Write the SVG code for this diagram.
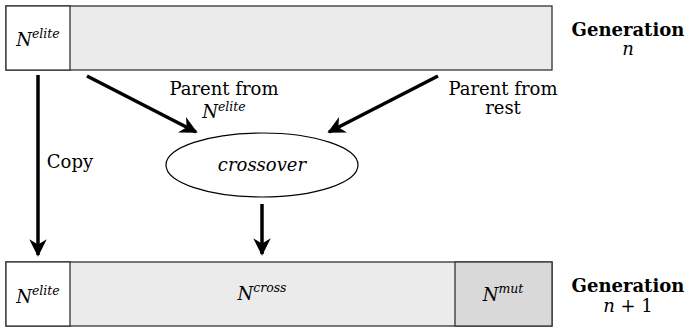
<svg xmlns="http://www.w3.org/2000/svg" width="688" height="328" viewBox="0 0 688 328">
<style>
.box{stroke:#333;stroke-width:1.3}
text{font-family:"DejaVu Serif","Liberation Serif",serif;font-size:18px;fill:#000;text-anchor:middle}
.i{font-style:italic}
.sup{font-size:12.5px;font-style:italic}
.b{font-weight:bold}
.c{stroke:#000;stroke-width:3.5;fill:none;marker-end:url(#ah)}
</style>
<defs>
<marker id="ah" viewBox="0 0 10 10" refX="9" refY="5" markerWidth="5" markerHeight="5" orient="auto" markerUnits="strokeWidth">
<path d="M0,0 L10,5 L0,10 L3,5 Z" fill="#000"/>
</marker>
</defs>
<g id="gen-n">
<rect class="box" x="6" y="6" width="546" height="64" fill="#ebebeb"/>
<rect class="box" x="6" y="6" width="64" height="64" fill="#fff"/>
<text x="38" y="46"><tspan class="i">N</tspan><tspan class="sup" dy="-8">elite</tspan></text>
</g>
<g id="label-n">
<text class="b" x="628" y="36">Generation</text>
<text class="i" x="628" y="55">n</text>
</g>
<g id="crossover">
<ellipse cx="262" cy="165" rx="96" ry="32" fill="#fff" stroke="#000" stroke-width="1.2"/>
<text class="i" x="262" y="171">crossover</text>
</g>
<g id="gen-n1">
<rect class="box" x="6" y="262" width="546" height="64" fill="#ebebeb"/>
<rect class="box" x="6" y="262" width="64" height="64" fill="#fff"/>
<rect class="box" x="455" y="262" width="97" height="64" fill="#d9d9d9"/>
<text x="38" y="303"><tspan class="i">N</tspan><tspan class="sup" dy="-8">elite</tspan></text>
<text x="262" y="300"><tspan class="i">N</tspan><tspan class="sup" dy="-8">cross</tspan></text>
<text x="503" y="301"><tspan class="i">N</tspan><tspan class="sup" dy="-8">mut</tspan></text>
</g>
<g id="label-n1">
<text class="b" x="628" y="292">Generation</text>
<text x="628" y="312"><tspan class="i">n</tspan> + 1</text>
</g>
<g id="connectors">
<line class="c" x1="38" y1="75" x2="38" y2="255"/>
<line class="c" x1="87" y1="76" x2="196" y2="132"/>
<line class="c" x1="438" y1="76" x2="329" y2="132"/>
<line class="c" x1="262" y1="204" x2="262" y2="254"/>
</g>
<g id="labels">
<text x="70" y="168">Copy</text>
<text x="224" y="95">Parent from</text>
<text x="224" y="118"><tspan class="i">N</tspan><tspan class="sup" dy="-7">elite</tspan></text>
<text x="503" y="95">Parent from</text>
<text x="503" y="114">rest</text>
</g>
</svg>
